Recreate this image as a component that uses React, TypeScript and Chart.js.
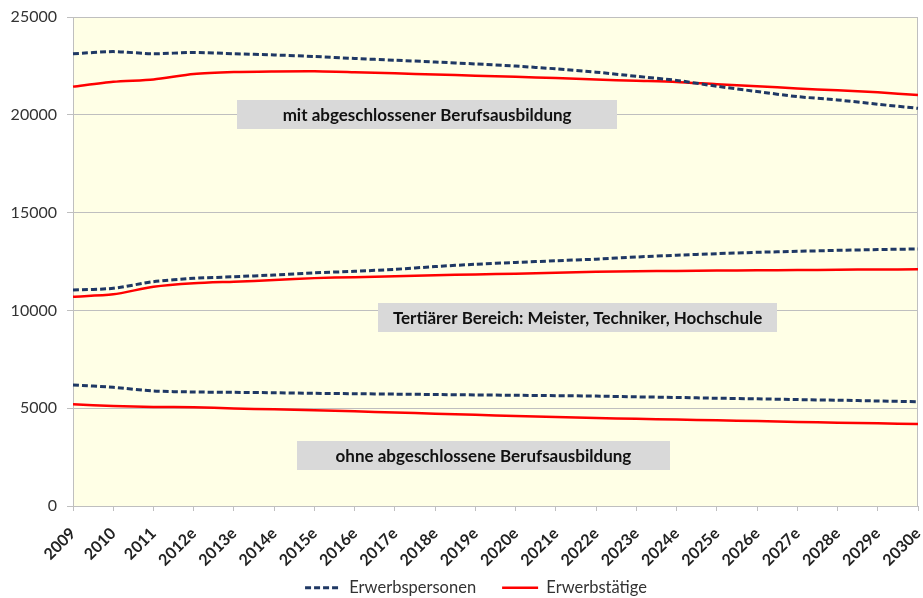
import React, { useEffect, useRef } from "react";
import { Chart, registerables } from "chart.js";

Chart.register(...registerables);

const years = [
  "2009", "2010", "2011", "2012e", "2013e", "2014e", "2015e", "2016e", "2017e", "2018e", "2019e",
  "2020e", "2021e", "2022e", "2023e", "2024e", "2025e", "2026e", "2027e", "2028e", "2029e", "2030e",
];

const mitPersonen = [23120, 23230, 23120, 23190, 23120, 23060, 22980, 22880, 22790, 22700, 22600, 22490, 22350, 22180, 21970, 21760, 21460, 21190, 20930, 20760, 20540, 20330];
const mitTaetige = [21440, 21690, 21810, 22090, 22190, 22220, 22230, 22180, 22120, 22060, 22000, 21940, 21880, 21800, 21740, 21680, 21560, 21460, 21350, 21250, 21150, 21010];
const tertPersonen = [11040, 11130, 11470, 11640, 11720, 11810, 11920, 12000, 12100, 12240, 12360, 12450, 12540, 12620, 12730, 12820, 12900, 12970, 13020, 13070, 13110, 13140];
const tertTaetige = [10700, 10820, 11210, 11390, 11470, 11550, 11650, 11700, 11750, 11800, 11840, 11880, 11930, 11970, 12000, 12020, 12040, 12050, 12060, 12080, 12090, 12100];
const ohnePersonen = [6190, 6070, 5880, 5830, 5810, 5790, 5760, 5740, 5720, 5700, 5680, 5660, 5640, 5620, 5580, 5550, 5510, 5480, 5440, 5410, 5370, 5330];
const ohneTaetige = [5200, 5110, 5060, 5050, 4990, 4940, 4900, 4840, 4780, 4720, 4660, 4600, 4550, 4500, 4460, 4420, 4380, 4340, 4300, 4260, 4230, 4190];

const yTicks = [0, 5000, 10000, 15000, 20000, 25000];

const seriesPersonen = "Erwerbspersonen";
const seriesTaetige = "Erwerbstätige";

const groupLabels = [
  "mit abgeschlossener Berufsausbildung",
  "Tertiärer Bereich: Meister, Techniker, Hochschule",
  "ohne abgeschlossene Berufsausbildung",
];

// annotation placement: center in (category index, value) and box size in px
const labelPlacement = [
  { xIndex: 8.8, yValue: 20020, w: 380, h: 29 },
  { xIndex: 12.54, yValue: 9650, w: 399, h: 29 },
  { xIndex: 10.2, yValue: 2560, w: 373, h: 29 },
];

const FONT = "Lato, 'Open Sans', sans-serif";
const NAVY = "#1F3864";
const RED = "#FF0000";

const plotBgPlugin = {
  id: "plotBg",
  afterLayout(chart: any) {
    // let the tick labels use the space outside the axis boxes
    const ys = chart.scales.y;
    if (ys) ys.left = 0;
    const xs = chart.scales.x;
    if (xs) xs.bottom = chart.height;
  },
  beforeDraw(chart: any) {
    const { ctx, chartArea: a } = chart;
    ctx.save();
    ctx.fillStyle = "#FFFFE6";
    ctx.fillRect(a.left, a.top, a.right - a.left, a.bottom - a.top);
    ctx.restore();
  },
  beforeDatasetsDraw(chart: any) {
    const { ctx, chartArea: a } = chart;
    ctx.save();
    ctx.strokeStyle = "#BFBFBF";
    ctx.lineWidth = 1;
    ctx.beginPath();
    ctx.moveTo(a.left, a.top + 0.5);
    ctx.lineTo(a.right - 0.5, a.top + 0.5);
    ctx.lineTo(a.right - 0.5, a.bottom);
    ctx.stroke();
    ctx.restore();
  },
};

const groupLabelPlugin = {
  id: "groupLabels",
  afterDatasetsDraw(chart: any) {
    const { ctx } = chart;
    const xs = chart.scales.x;
    const ys = chart.scales.y;
    ctx.save();
    groupLabels.forEach((text, i) => {
      const p = labelPlacement[i];
      const cx = xs.getPixelForDecimal(p.xIndex / (years.length - 1));
      const cy = ys.getPixelForValue(p.yValue);
      ctx.fillStyle = "#D9D9D9";
      ctx.fillRect(Math.round(cx - p.w / 2), Math.round(cy - p.h / 2), p.w, p.h);
      ctx.fillStyle = "#111111";
      ctx.font = `bold 17px ${FONT}`;
      ctx.textAlign = "center";
      ctx.textBaseline = "middle";
      ctx.fillText(text, cx, cy + 1);
    });
    ctx.restore();
  },
};

export default function App() {
  const canvasRef = useRef<HTMLCanvasElement | null>(null);

  useEffect(() => {
    if (!canvasRef.current) return;
    const mk = (label: string, data: number[], dashed: boolean) => ({
      label,
      data,
      borderColor: dashed ? NAVY : RED,
      backgroundColor: dashed ? NAVY : RED,
      borderWidth: dashed ? 3 : 2.5,
      borderDash: dashed ? [6, 3] : [],
      pointRadius: 0,
      pointHoverRadius: 0,
      pointStyle: "line",
      tension: 0.25,
      fill: false,
    });

    const chart = new Chart(canvasRef.current, {
      type: "line",
      data: {
        labels: years,
        datasets: [
          mk(seriesPersonen, mitPersonen, true),
          mk(seriesTaetige, mitTaetige, false),
          mk(seriesPersonen, tertPersonen, true),
          mk(seriesTaetige, tertTaetige, false),
          mk(seriesPersonen, ohnePersonen, true),
          mk(seriesTaetige, ohneTaetige, false),
        ],
      },
      options: {
        responsive: false,
        animation: false,
        layout: { padding: { left: 34, right: 5, top: 17, bottom: -8 } },
        plugins: {
          tooltip: { enabled: false },
          legend: {
            position: "bottom",
            labels: {
              usePointStyle: true,
              pointStyleWidth: 36,
              boxHeight: 16,
              padding: 26,
              color: "#333333",
              font: { family: FONT, size: 16.5 },
              generateLabels: (chart: any) =>
                chart.data.datasets.slice(0, 2).map((ds: any, i: number) => ({
                  text: ds.label,
                  datasetIndex: i,
                  fillStyle: ds.borderColor,
                  strokeStyle: ds.borderColor,
                  lineWidth: ds.borderWidth,
                  lineDash: ds.borderDash,
                  pointStyle: "line",
                  hidden: false,
                  fontColor: "#333333",
                })),
            },
          },
        },
        scales: {
          x: {
            offset: false,
            grid: {
              display: true,
              drawOnChartArea: false,
              drawTicks: true,
              tickLength: 5,
              color: "#BFBFBF",
            },
            border: { display: true, color: "#BFBFBF" },
            ticks: {
              autoSkip: false,
              minRotation: 45,
              maxRotation: 45,
              padding: 13,
              color: "#222222",
              font: { family: FONT, size: 16, weight: "bold" },
            },
            afterFit: (s: any) => {
              s.height = 47.5;
              s.paddingLeft = 0;
              s.paddingRight = 0;
            },
          },
          y: {
            min: 0,
            max: 25000,
            afterBuildTicks: (s: any) => {
              s.ticks = yTicks.map((v) => ({ value: v }));
            },
            grid: {
              color: "#BFBFBF",
              tickLength: 6,
            },
            border: { display: true, color: "#BFBFBF" },
            ticks: {
              padding: 10,
              color: "#333333",
              font: { family: FONT, size: 16 },
              callback: (v: any) => String(v),
            },
            afterFit: (s: any) => {
              s.width = 39;
              s.paddingTop = 0;
              s.paddingBottom = 0;
            },
          },
        },
      },
      plugins: [plotBgPlugin, groupLabelPlugin],
    } as any);
    return () => chart.destroy();
  }, []);

  return (
    <div style={{ position: "fixed", left: 0, top: 0, width: 923, height: 598, background: "#fff" }}>
      <canvas ref={canvasRef} width={923} height={598} style={{ display: "block" }} />
    </div>
  );
}
